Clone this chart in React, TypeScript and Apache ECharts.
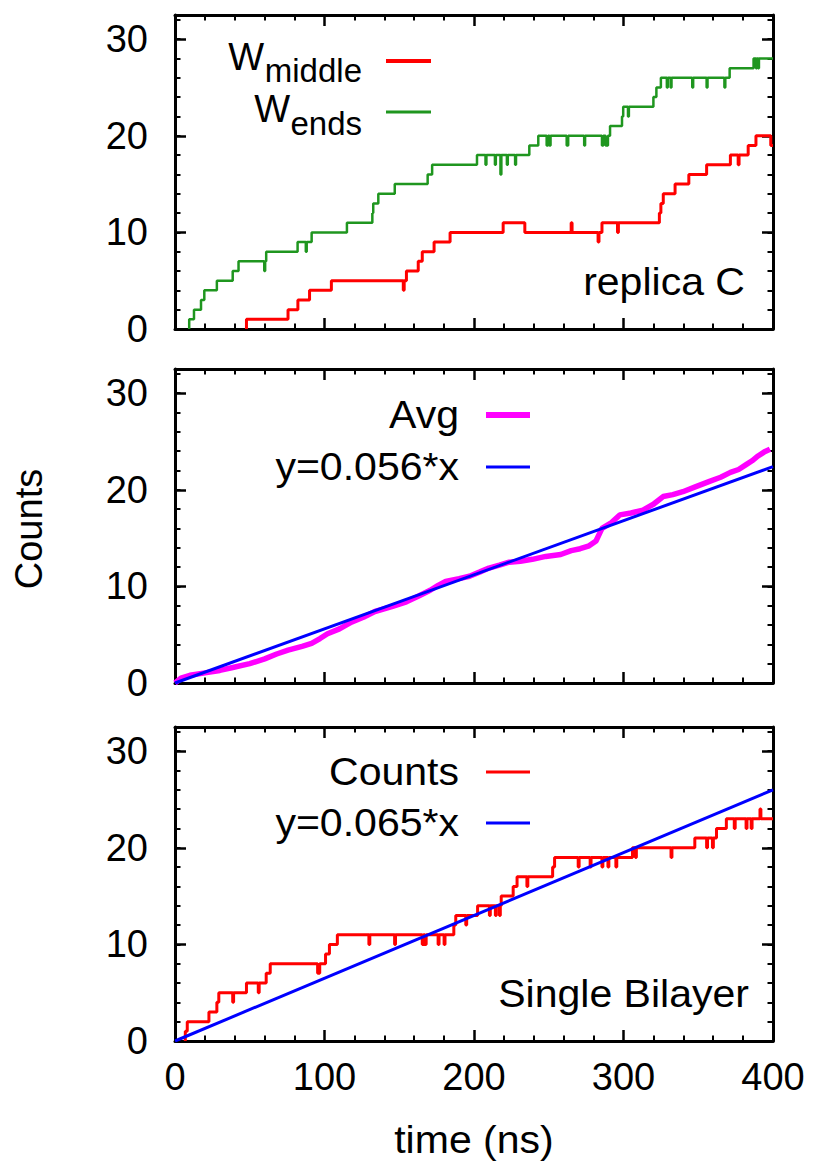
import React, { useEffect, useRef } from "react";
import * as echarts from "echarts";

const FONT = "'Liberation Sans', Arial, Helvetica, sans-serif";

// x axis (time, ns) and y axis (counts) ranges / ticks
const X_MIN = 0;
const X_MAX = 400;
const X_INTERVAL = 100;
const Y_MIN = 0;
const Y_MAX = 32.5;
const Y_INTERVAL = 10;
const Y_MINOR_INTERVAL = 2;

// Panel 1 (replica C): step data [time, count]
const wMiddle: [number, number][] = [
  [47.8, 0], [47.8, 1], [75.6, 2], [82.2, 3], [90, 4], [104.6, 5], [152.7, 4], [153.3, 5],
  [154.8, 6], [162.7, 7], [165.4, 8], [173.3, 9], [184, 10], [219.5, 11], [234, 10],
  [265, 11], [265.6, 10], [283, 9], [283.6, 10], [285.6, 11], [296, 10], [296.6, 11],
  [324, 12], [325, 13], [326.6, 14], [334.5, 15], [343.7, 16], [355.6, 17], [371.5, 18],
  [376.7, 17], [377.3, 18], [383.4, 19], [388.6, 20], [398.5, 19], [400, 19],
];

const wEnds: [number, number][] = [
  [9.5, 0], [9.5, 1], [12.7, 2], [17.4, 3], [19.6, 4], [28, 5], [38.6, 6], [42.5, 7],
  [59.7, 6], [60.3, 7], [61, 8], [82, 9], [87.5, 8], [88.1, 9], [91.4, 10], [115, 11],
  [132, 12], [132.6, 13], [136, 14], [147, 15], [169, 16], [172, 17], [202, 18],
  [207.7, 17], [208.3, 18], [214, 17], [214.6, 18], [217.7, 16], [218.3, 18], [222, 17],
  [222.6, 18], [227.5, 17], [228.1, 18], [237, 19], [243, 20], [248.6, 19], [249.5, 20],
  [250.5, 19], [251.2, 20], [262, 19], [263, 20], [273.7, 19], [274.3, 20], [285.6, 19],
  [286.5, 20], [288, 19], [289.6, 20], [291, 21], [299, 22], [299.8, 23], [303, 22],
  [303.6, 23], [320, 24], [322, 25], [325, 26], [329, 25], [329.6, 26], [331.5, 25],
  [332.1, 26], [346, 25], [346.6, 26], [355.6, 25], [356.2, 26], [367.5, 25], [368.1, 26],
  [371, 27], [387, 28], [388.6, 27], [389.2, 28], [390, 27], [390.6, 28], [400, 28],
];

// Panel 2: average counts and linear fit
const avgCounts: [number, number][] = [
  [0, 0], [4, 0.5], [10, 0.8], [20, 1.05], [30, 1.3], [38.6, 1.6], [50, 2.0], [60, 2.5],
  [68, 3.0], [75.6, 3.4], [85, 3.8], [91.4, 4.1], [97, 4.6], [102, 5.1], [110, 5.6],
  [118, 6.3], [126, 6.8], [133.7, 7.4], [145, 7.9], [154.8, 8.4], [163, 9.0], [170.7, 9.6],
  [176, 10.1], [181, 10.5], [190, 10.8], [197, 11.05], [204, 11.5], [210, 11.9],
  [217, 12.2], [223.5, 12.5], [231, 12.6], [239, 12.8], [248, 13.1], [258, 13.3],
  [265, 13.7], [271, 13.9], [277, 14.2], [281.6, 14.7], [285.6, 16.0], [292, 16.6],
  [297.5, 17.4], [305, 17.6], [313, 17.9], [320, 18.5], [326.5, 19.3], [333, 19.5],
  [339.7, 19.8], [348, 20.3], [358, 20.9], [365, 21.3], [371.5, 21.8], [377, 22.1],
  [382, 22.6], [386, 23.0], [390, 23.5], [394, 23.9], [398, 24.2],
];
const fitAvg: [number, number][] = [[0, 0], [400, 22.4]]; // y = 0.056*x

// Panel 3: single bilayer counts and linear fit
const singleCounts: [number, number][] = [
  [6.9, 0], [6.9, 1], [8.2, 2], [22.7, 3], [28, 4], [29.3, 5], [38.6, 4], [39.2, 5],
  [47.8, 6], [55.7, 5], [56.3, 6], [61, 7], [63.7, 8], [95.4, 7], [96.8, 8], [100.7, 9],
  [103.3, 10], [108.6, 11], [129.7, 10], [130.3, 11], [146.9, 10], [147.5, 11],
  [165.4, 10], [166.2, 11], [167.2, 10], [168, 11], [176, 10], [176.6, 11], [180, 10],
  [180.6, 11], [186.5, 12], [187.8, 13], [194.5, 12], [195.1, 13], [202.4, 14],
  [210.3, 13], [210.9, 14], [214.3, 13], [214.9, 14], [217, 13], [217.6, 14], [218.2, 15],
  [226.2, 16], [228.8, 17], [235.4, 16], [236, 17], [252.6, 18], [253.9, 19], [269.7, 18],
  [270.3, 19], [277.7, 18], [278.3, 19], [285.6, 18], [286.2, 19], [289.6, 18],
  [290.2, 19], [294.9, 18], [295.5, 19], [306, 20], [308, 19], [308.6, 20], [331.8, 19],
  [332.4, 20], [347.7, 21], [355.6, 20], [356.2, 21], [359.5, 20], [360.1, 21],
  [362.2, 22], [368.8, 23], [374.1, 22], [374.7, 23], [382, 22], [382.6, 23], [385.4, 22],
  [386, 23], [391.3, 24], [391.9, 23], [400, 23],
];
const fitSingle: [number, number][] = [[0, 0], [400, 26]]; // y = 0.065*x

const GRID_LEFT = 175;
const GRID_WIDTH = 598;
const GRID_HEIGHT = 314;
const GRID_TOPS = [15, 369, 727];

const RED = "#ff0000";
const GREEN = "#1f961f";
const MAGENTA = "#ff00ff";
const BLUE = "#0000ff";

function xAxes(g: number) {
  const base = (pos: string, show: boolean) => ({
    type: "value",
    gridIndex: g,
    position: pos,
    min: X_MIN,
    max: X_MAX,
    interval: X_INTERVAL,
    axisLine: { show: true, onZero: false, lineStyle: { color: "#000", width: 3 } },
    axisTick: { show: true, inside: true, length: 11, lineStyle: { color: "#000", width: 2.5 } },
    minorTick: { show: true, splitNumber: 5, length: 5.5, lineStyle: { color: "#000", width: 2 } },
    axisLabel: { show, margin: 17, fontSize: 38, fontFamily: FONT, color: "#000" },
    splitLine: { show: false },
    minorSplitLine: { show: false },
  });
  return [base("bottom", g === 2), base("top", false)];
}

function yAxes(g: number) {
  const major = (pos: string, show: boolean) => ({
    type: "value",
    gridIndex: g,
    position: pos,
    min: Y_MIN,
    max: Y_MAX,
    interval: Y_INTERVAL,
    axisLine: { show: true, onZero: false, lineStyle: { color: "#000", width: 3 } },
    axisTick: { show: true, inside: true, length: 11, lineStyle: { color: "#000", width: 2.5 } },
    axisLabel: {
      show,
      showMaxLabel: false,
      margin: 27,
      fontSize: 38,
      fontFamily: FONT,
      color: "#000",
    },
    splitLine: { show: false },
  });
  const minor = (pos: string) => ({
    type: "value",
    gridIndex: g,
    position: pos,
    min: Y_MIN,
    max: Y_MAX,
    interval: Y_MINOR_INTERVAL,
    axisLine: { show: false, onZero: false },
    axisTick: { show: true, inside: true, length: 5.5, lineStyle: { color: "#000", width: 2 } },
    axisLabel: { show: false },
    splitLine: { show: false },
  });
  return [major("left", true), minor("left"), major("right", false), minor("right")];
}

function txt(text: string, x: number, y: number, align: string, size = 38, extra: any = {}) {
  return {
    type: "text",
    x,
    y,
    ...extra,
    style: {
      text,
      fill: "#000",
      fontSize: size,
      fontFamily: FONT,
      font: `${size}px ${FONT}`,
      textAlign: align,
      align,
      textVerticalAlign: "middle",
      verticalAlign: "middle",
    },
  };
}

function seg(x1: number, x2: number, y: number, color: string, w: number) {
  return {
    type: "line",
    shape: { x1, y1: y, x2, y2: y },
    style: { stroke: color, lineWidth: w },
  };
}

const WIDE = { scaleX: 1.08 };

export default function App() {
  const ref = useRef<HTMLDivElement>(null);
  useEffect(() => {
    if (!ref.current) return;
    const chart = echarts.init(ref.current, undefined, { renderer: "svg" });
    const grids = GRID_TOPS.map((top) => ({
      left: GRID_LEFT,
      top,
      width: GRID_WIDTH,
      height: GRID_HEIGHT,
      containLabel: false,
    }));
    const lineS = (name: string, data: any, g: number, color: string, width: number, step: any) => ({
      name,
      type: "line",
      xAxisIndex: 2 * g,
      yAxisIndex: 4 * g,
      data,
      step,
      showSymbol: false,
      symbol: "none",
      lineStyle: { color, width },
      itemStyle: { color },
      emphasis: { disabled: true },
    });
    chart.setOption({
      animation: false,
      textStyle: { fontFamily: FONT },
      grid: grids,
      xAxis: [...xAxes(0), ...xAxes(1), ...xAxes(2)],
      yAxis: [...yAxes(0), ...yAxes(1), ...yAxes(2)],
      series: [
        lineS("W_middle", wMiddle, 0, RED, 3, "end"),
        lineS("W_ends", wEnds, 0, GREEN, 2.5, "end"),
        lineS("Avg", avgCounts, 1, MAGENTA, 5.5, false),
        lineS("y=0.056*x", fitAvg, 1, BLUE, 3, false),
        lineS("Counts", singleCounts, 2, RED, 3, "end"),
        lineS("y=0.065*x", fitSingle, 2, BLUE, 3, false),
      ],
      graphic: [
        // panel 1 legend
        txt("W", 264, 57, "right"),
        txt("middle", 362, 70, "right", 33),
        seg(386, 431, 61, RED, 4),
        txt("W", 290, 109, "right"),
        txt("ends", 362, 123, "right", 33),
        seg(386, 431, 112, GREEN, 3),
        txt("replica C", 745, 282, "right", 38, WIDE),
        // panel 2 legend
        txt("Avg", 459, 415, "right", 38, WIDE),
        seg(486, 530, 415, MAGENTA, 6),
        txt("y=0.056*x", 459, 467, "right", 38, WIDE),
        seg(486, 530, 467, BLUE, 3),
        // panel 3 legend
        txt("Counts", 459, 772, "right", 38, WIDE),
        seg(486, 530, 772, RED, 3),
        txt("y=0.065*x", 459, 823, "right", 38, WIDE),
        seg(486, 530, 823, BLUE, 3),
        txt("Single Bilayer", 749, 994, "right", 38, WIDE),
        // axis titles
        txt("time (ns)", 474, 1140, "center", 38, WIDE),
        txt("Counts", 29, 529, "center", 38, { rotation: Math.PI / 2 }),
      ],
    });
    return () => chart.dispose();
  }, []);
  return (
    <div
      ref={ref}
      style={{ position: "absolute", left: 0, top: 0, width: 816, height: 1169, background: "#fff" }}
    />
  );
}
